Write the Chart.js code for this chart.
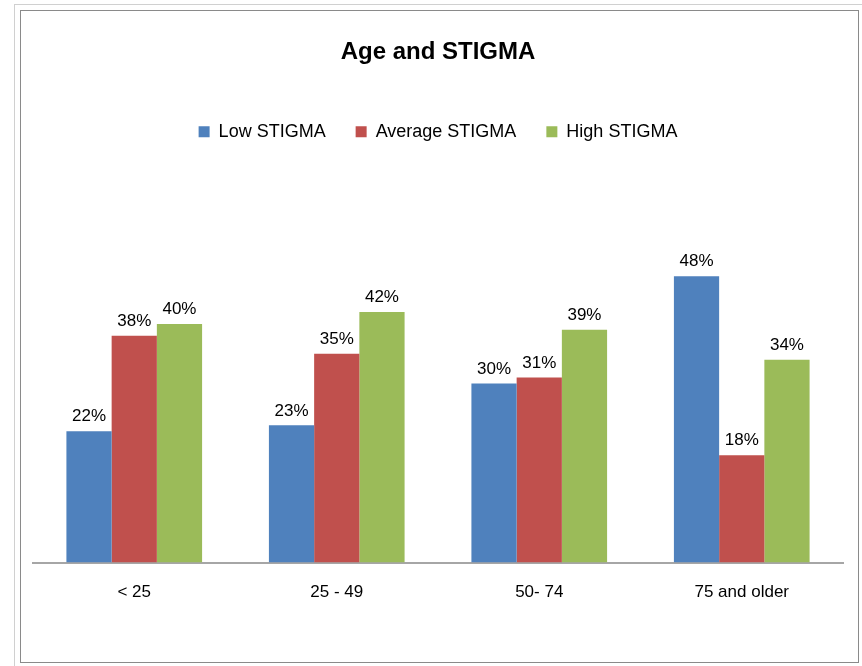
<!DOCTYPE html>
<html>
<head>
<meta charset="utf-8">
<script src="https://cdn.jsdelivr.net/npm/chart.js@4"></script>
<style>
  body { margin: 0; background: #fff; }
  #wrap { position: relative; width: 862px; height: 666px; }
  #outer { position: absolute; left: 14px; top: 4px; width: 848px; height: 662px; border: 1px solid #d0d0d0; border-right: none; border-bottom: none; }
  #inner { position: absolute; left: 20px; top: 10px; width: 837px; height: 651px; border: 1px solid #8a8a8a; }
  canvas { position: absolute; left: 0; top: 0; }
</style>
</head>
<body>
<div id="wrap">
  <div id="outer"></div>
  <div id="inner"></div>
  <canvas id="chart" width="862" height="666"></canvas>
</div>
<script>
const categories = ["< 25", "25 - 49", "50- 74", "75 and older"];
const lowStigma = [22, 23, 30, 48];
const averageStigma = [38, 35, 31, 18];
const highStigma = [40, 42, 39, 34];

const FONT = "'Liberation Sans', Arial, sans-serif";

// value labels above each bar
const barLabels = {
  id: "barLabels",
  afterDatasetsDraw(chart) {
    const ctx = chart.ctx;
    ctx.save();
    ctx.font = "17px " + FONT;
    ctx.fillStyle = "#000";
    ctx.textAlign = "center";
    ctx.textBaseline = "bottom";
    chart.data.datasets.forEach((ds, i) => {
      chart.getDatasetMeta(i).data.forEach((bar, j) => {
        ctx.fillText(ds.data[j] + "%", bar.x, bar.y - 6);
      });
    });
    ctx.restore();
  }
};

new Chart(document.getElementById("chart"), {
  type: "bar",
  data: {
    labels: categories,
    datasets: [
      { label: "Low STIGMA", data: lowStigma, backgroundColor: "#4F81BD" },
      { label: "Average STIGMA", data: averageStigma, backgroundColor: "#C0504D" },
      { label: "High STIGMA", data: highStigma, backgroundColor: "#9BBB59" }
    ]
  },
  options: {
    responsive: false,
    animation: false,
    layout: { padding: { left: 33, right: 19, top: 12, bottom: 51 } },
    datasets: { bar: { categoryPercentage: 0.67, barPercentage: 1.0 } },
    plugins: {
      title: {
        display: true,
        text: "Age and STIGMA",
        color: "#000",
        font: { family: FONT, size: 24, weight: "bold" },
        padding: { top: 26, bottom: 26 }
      },
      legend: {
        labels: {
          color: "#000",
          font: { family: FONT, size: 18 },
          boxWidth: 11,
          boxHeight: 11,
          padding: 30
        }
      },
      tooltip: { enabled: false }
    },
    scales: {
      x: {
        grid: { display: false },
        border: { display: true, color: "#a6a6a6", width: 2 },
        ticks: { color: "#000", font: { family: FONT, size: 17 }, padding: 12 }
      },
      y: {
        display: false,
        min: 0,
        max: 69
      }
    }
  },
  plugins: [barLabels]
});
</script>
</body>
</html>
